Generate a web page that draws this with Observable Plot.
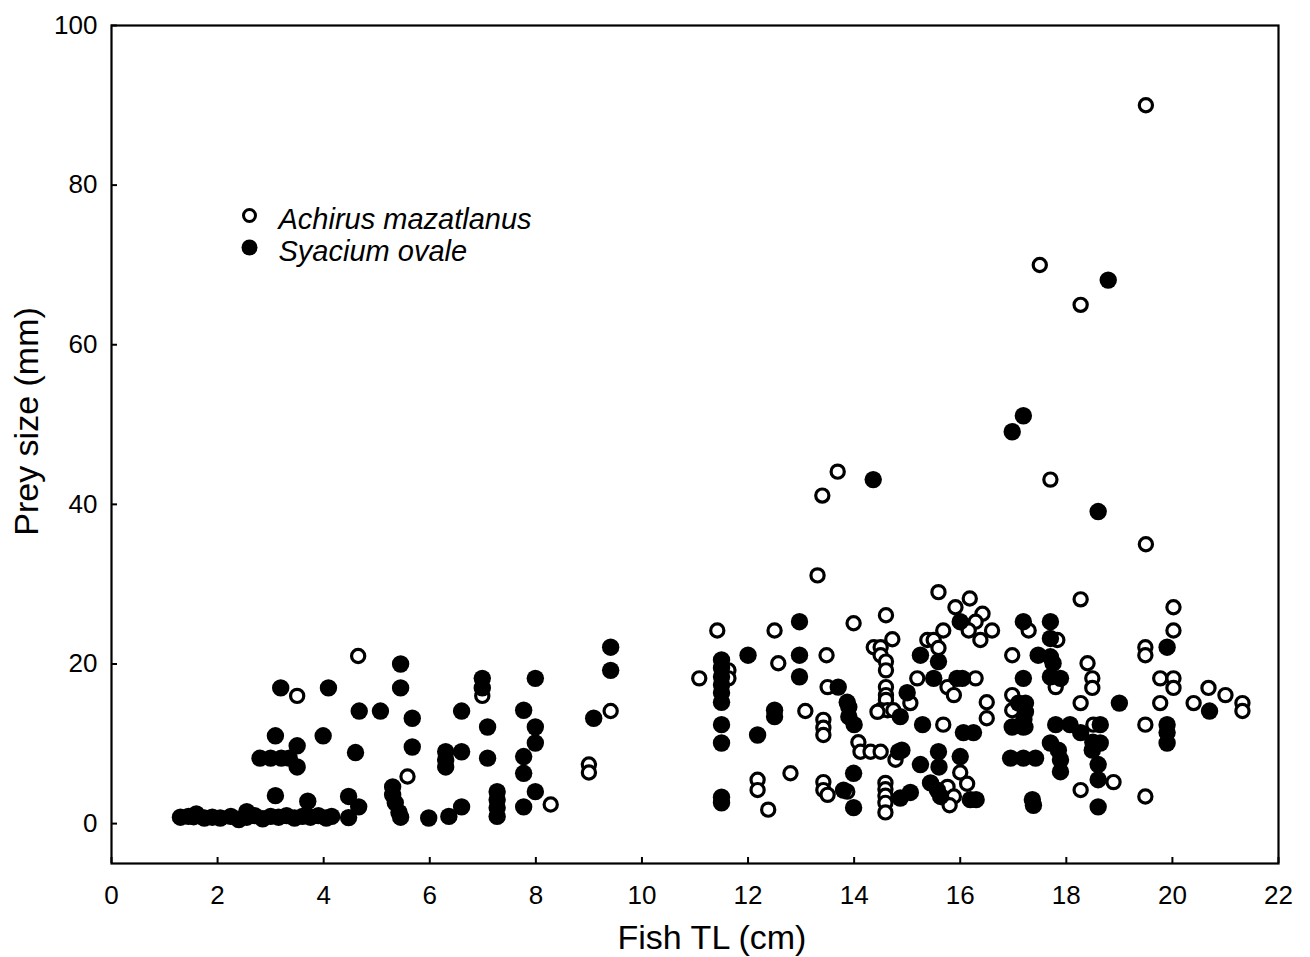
<!DOCTYPE html>
<html><head><meta charset="utf-8">
<script src="https://cdn.jsdelivr.net/npm/d3@7"></script>
<script src="https://cdn.jsdelivr.net/npm/@observablehq/plot@0.6"></script>
<style>body{margin:0;background:#fff} svg{display:block}</style>
</head><body><div id="chart"></div>
<script>
const xTicks = [0,2,4,6,8,10,12,14,16,18,20,22];
const yTicks = [0,20,40,60,80,100];
const legendLabels = ["Achirus mazatlanus","Syacium ovale"];
const xTitle = "Fish TL (cm)";
const yTitle = "Prey size (mm)";

// Achirus mazatlanus (open circles): fish TL (cm), prey size (mm)
const achirusTL = [1.55,3.5,4.65,5.58,6.99,8.28,9.0,9.0,9.41,11.08,11.42,11.63,11.63,12.18,12.18,12.38,12.5,12.57,12.8,13.08,
13.31,13.4,13.69,13.42,13.42,13.42,13.48,13.5,13.42,13.42,13.5,13.87,13.99,14.08,14.12,14.31,14.5,14.78,14.37,14.5,
14.72,14.5,14.6,14.6,14.6,14.6,14.6,14.6,14.5,14.63,14.74,14.44,14.59,14.59,14.59,14.59,14.59,15.06,15.19,15.38,
15.5,15.59,15.68,15.59,15.68,15.76,15.88,15.76,15.76,15.88,15.8,16.0,16.13,15.91,16.18,16.42,16.29,16.16,16.38,16.6,
16.29,16.5,16.5,16.98,16.98,16.98,17.23,17.29,17.83,17.8,17.5,17.7,18.27,18.27,18.4,18.49,18.49,18.27,18.51,18.89,
18.27,19.5,19.5,19.49,19.49,19.49,19.49,19.77,19.77,20.02,20.02,20.02,20.02,20.4,20.68,21.0,21.32,21.32];
const achirusPrey = [0.8,16,21,5.9,16,2.4,7.4,6.4,14.1,18.2,24.2,19.2,18.2,5.5,4.2,1.75,24.2,20.1,6.3,14.1,
31.1,41.1,44.1,13,12,11.1,21.1,17.1,5.2,4.2,3.6,4.0,25.1,10.2,9,9,9,8,22.1,22.1,
23.1,21.1,20.3,19.2,17.1,16.1,15.5,26.1,14.2,14.2,14.2,14,5.1,4.3,3.5,2.6,1.4,15.1,18.2,23,
23,22,24.2,29,12.4,17.1,16.1,4.6,3,3.4,2.3,6.4,5.0,27.1,28.2,26.3,25.3,24.2,23,24.2,
18.2,15.2,13.2,21.1,16.1,14.2,12.1,24.2,23,17.1,70,43.1,65,28.1,20.1,18.2,17,15.1,12.4,5.2,
4.2,90,35,22.1,21.1,12.4,3.4,18.2,15.1,27.1,24.2,18.2,17,15.1,17,16.1,15.1,14.1];

// Syacium ovale (filled circles)
const syaciumTL = [1.3,1.45,1.6,1.75,1.9,2.05,2.25,2.4,2.55,2.7,2.85,3.0,3.15,3.3,3.45,3.6,3.75,3.9,4.05,4.15,
2.55,3.09,3.7,3.19,4.09,3.09,3.99,3.5,2.8,3.0,3.2,3.35,3.5,4.6,4.67,5.07,5.45,5.45,5.67,5.67,
4.47,4.66,4.47,5.3,5.3,5.35,5.42,5.45,5.98,6.36,6.6,6.6,6.3,6.3,6.3,6.6,6.99,6.99,7.09,7.09,
7.27,7.27,7.27,7.27,7.77,7.99,7.99,7.77,7.77,7.99,7.77,7.99,9.41,9.41,9.09,
11.5,11.5,11.5,11.5,11.5,11.5,11.5,11.5,11.5,11.5,12.0,12.97,12.97,12.97,12.5,12.5,12.18,
13.7,13.87,13.9,13.9,14.0,13.99,13.99,13.8,14.36,14.87,15.0,14.9,14.84,14.87,15.06,
15.25,15.29,15.25,15.59,15.5,15.59,15.6,15.44,15.57,15.63,15.94,16.04,16.0,16.06,16.25,16.0,16.19,16.3,
16.98,17.19,17.19,17.47,17.7,17.7,17.7,17.75,17.19,17.7,17.89,17.1,17.23,17.23,17.2,16.98,17.19,16.95,17.19,17.42,17.36,17.38,
17.8,18.07,17.7,17.85,17.89,17.89,18.27,18.64,18.5,18.64,18.49,18.6,18.6,18.6,18.79,18.6,19.0,19.9,19.9,19.9,19.9,20.7];
const syaciumPrey = [0.8,0.9,1.2,0.7,0.8,0.7,0.9,0.5,0.8,1.0,0.6,0.9,0.8,1.0,0.7,0.9,0.8,1.0,0.7,0.9,
1.5,3.5,2.8,17,17,11,11,9.75,8.2,8.2,8.2,8.2,7.1,8.9,14.1,14.1,20,17,13.2,9.6,
3.4,2.1,0.75,4.6,3.6,2.6,1.4,0.8,0.7,0.9,2.1,14.1,9,8,7.1,9,18.2,17,12.1,8.2,
4,3,2,0.9,14.2,12.1,10.1,8.4,6.3,4,2.1,18.2,22.1,19.2,13.2,
20.5,19.5,18.4,17.4,16.4,15.2,12.4,10.1,3.3,2.6,21.1,25.3,21.1,18.4,14.2,13.4,11.1,
17.1,15.2,14.6,13.4,12.4,6.3,2,4.2,43.1,13.4,16.4,9.2,9,3.2,3.9,
21.1,12.4,7.4,20.3,18.2,9,7.1,5.1,4.2,3.4,18.2,18.2,25.3,11.4,11.4,8.4,3,3,
49.1,51.1,25.3,21.1,25.3,23.2,20.9,20.1,18.2,18.4,18.2,15.1,15.1,14,13,12.1,12.1,8.2,8.2,8.2,3,2.3,
12.4,12.4,10.1,9.2,8,6.5,11.4,12.4,10.2,10.1,9.2,7.4,5.5,2.1,68.1,39.1,15.1,22.1,12.4,11.4,10.1,14.1];

const achirus = achirusTL.map((x, i) => ({tl: x, prey: achirusPrey[i]}));
const syacium = syaciumTL.map((x, i) => ({tl: x, prey: syaciumPrey[i]}));

const font = "'Liberation Sans', Arial, sans-serif";

const chart = Plot.plot({
  width: 1310,
  height: 957,
  marginLeft: 111,
  marginRight: 32,
  marginTop: 25,
  marginBottom: 94,
  style: {fontFamily: font, background: "#fff", color: "#000"},
  x: {domain: [0, 22]},
  y: {domain: [-5, 100]},
  marks: [
    Plot.frame({stroke: "#000", strokeWidth: 2.2}),
    Plot.axisX({ticks: xTicks, tickSize: -6, tickPadding: 28, tickFormat: d => d, label: null, fontSize: 26, strokeWidth: 2}),
    Plot.axisY({ticks: yTicks, tickSize: -6, tickPadding: 20, tickFormat: d => d, label: null, fontSize: 26, strokeWidth: 2}),
    Plot.text([xTitle], {frameAnchor: "bottom", lineAnchor: "middle", textAnchor: "middle", dx: 17, dy: 75, fontSize: 34, fill: "#000"}),
    Plot.text([yTitle], {frameAnchor: "left", lineAnchor: "middle", textAnchor: "middle", rotate: -90, dx: -84, dy: -23, fontSize: 34, fill: "#000"}),
    Plot.dot(achirus, {x: "tl", y: "prey", r: 6.6, fill: "#fff", stroke: "#000", strokeWidth: 3.2}),
    Plot.dot(syacium, {x: "tl", y: "prey", r: 8.7, fill: "#000", stroke: "none"}),
    Plot.dot([legendLabels[0]], {frameAnchor: "top-left", dx: 138, dy: 190, r: 6, fill: "#fff", stroke: "#000", strokeWidth: 3}),
    Plot.dot([legendLabels[1]], {frameAnchor: "top-left", dx: 138, dy: 222, r: 8, fill: "#000"}),
    Plot.text([legendLabels[0]], {frameAnchor: "top-left", lineAnchor: "middle", dx: 167, dy: 194, text: d => d, textAnchor: "start", fontSize: 29, fontStyle: "italic", fill: "#000"}),
    Plot.text([legendLabels[1]], {frameAnchor: "top-left", lineAnchor: "middle", dx: 167, dy: 226, text: d => d, textAnchor: "start", fontSize: 29, fontStyle: "italic", fill: "#000"})
  ]
});
document.getElementById("chart").appendChild(chart);
</script>
</body></html>
